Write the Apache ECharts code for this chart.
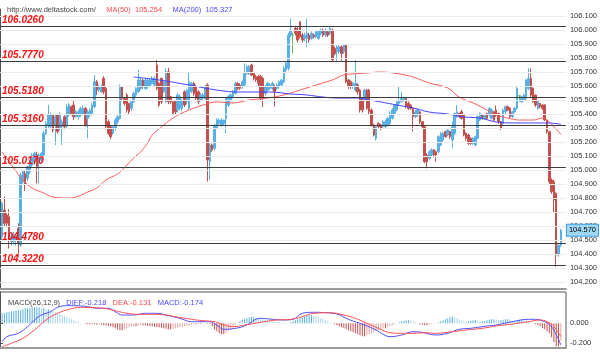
<!DOCTYPE html>
<html><head><meta charset="utf-8">
<script src="https://cdn.jsdelivr.net/npm/echarts@6/dist/echarts.min.js"></script>
<style>html,body{margin:0;padding:0;background:#fff}#c{width:600px;height:356px}</style>
</head><body><div id="c"></div>
<script>
// ---- data ----
// candles: [open, close, low, high]
const candles = [
[104.523,104.762,104.50,104.774],[104.714,104.619,104.60,104.81],[104.678,104.619,104.59,104.69],[104.666,104.50,104.44,104.72],
[104.488,104.523,104.46,104.55],[104.49,104.535,104.47,104.56],[104.50,104.523,104.46,104.54],[104.583,104.476,104.38,104.62],
[104.464,104.964,104.45,104.98],[104.916,104.988,104.90,105.0],[104.976,104.893,104.85,105.0],[104.94,105.024,104.92,105.03],
[104.988,105.059,104.97,105.07],[105.035,105.107,105.02,105.12],[105.059,105.119,105.04,105.13],[105.107,105.024,104.904,105.13],
[105.059,105.107,104.904,105.12],[105.071,105.119,105.05,105.13],[105.107,105.262,105.09,105.28],[105.262,105.333,105.25,105.35],
[105.321,105.393,105.30,105.464],[105.309,105.393,105.29,105.41],[105.393,105.285,105.27,105.40],[105.321,105.381,105.178,105.40],
[105.393,105.274,105.26,105.40],[105.297,105.393,105.28,105.41],[105.309,105.345,105.178,105.36],[105.381,105.309,105.29,105.39],
[105.321,105.452,105.30,105.47],[105.393,105.464,105.38,105.48],[105.452,105.404,105.39,105.46],[105.464,105.381,105.357,105.50],
[105.381,105.416,105.37,105.43],[105.381,105.416,105.36,105.43],[105.393,105.44,105.38,105.45],[105.40,105.44,105.39,105.46],
[105.44,105.321,105.31,105.45],[105.369,105.416,105.226,105.43],[105.393,105.428,105.38,105.44],[105.404,105.464,105.39,105.48],
[105.452,105.631,105.44,105.678],[105.631,105.571,105.535,105.643],[105.571,105.595,105.56,105.61],[105.559,105.595,105.55,105.61],
[105.655,105.559,105.54,105.67],[105.583,105.309,105.29,105.60],[105.345,105.262,105.25,105.36],[105.309,105.238,105.22,105.32],
[105.262,105.309,105.25,105.32],[105.297,105.357,105.28,105.37],[105.345,105.381,105.33,105.39],[105.369,105.595,105.36,105.61],
[105.595,105.512,105.50,105.60],[105.512,105.476,105.46,105.52],[105.535,105.428,105.41,105.55],[105.476,105.416,105.40,105.48],
[105.44,105.488,105.42,105.50],[105.488,105.547,105.48,105.56],[105.535,105.583,105.52,105.59],[105.559,105.643,105.55,105.714],
[105.583,105.643,105.57,105.66],[105.643,105.595,105.58,105.65],[105.583,105.643,105.57,105.66],[105.595,105.643,105.58,105.66],
[105.60,105.643,105.59,105.65],[105.619,105.655,105.61,105.67],[105.607,105.655,105.60,105.67],[105.75,105.583,105.57,105.786],
[105.619,105.464,105.45,105.63],[105.655,105.488,105.47,105.66],[105.559,105.631,105.55,105.64],[105.488,105.702,105.48,105.726],
[105.702,105.488,105.47,105.73],[105.523,105.488,105.47,105.53],[105.488,105.404,105.39,105.50],[105.488,105.416,105.40,105.50],
[105.428,105.535,105.41,105.55],[105.44,105.523,105.43,105.54],
[105.44,105.50,105.42,105.51],[105.559,105.464,105.45,105.57],[105.488,105.571,105.47,105.58],[105.44,105.631,105.43,105.702],
[105.559,105.619,105.55,105.63],[105.619,105.547,105.53,105.63],[105.595,105.512,105.50,105.61],[105.559,105.488,105.47,105.57],
[105.50,105.536,105.49,105.55],[105.512,105.536,105.50,105.55],[105.512,105.595,105.50,105.61],[105.607,105.071,104.917,105.62],
[105.06,105.179,104.929,105.19],[105.179,105.143,105.13,105.19],[105.155,105.321,105.14,105.33],[105.298,105.357,105.29,105.37],
[105.333,105.357,105.32,105.37],[105.321,105.357,105.31,105.37],[105.33,105.357,105.32,105.36],[105.369,105.512,105.262,105.52],
[105.464,105.524,105.45,105.535],[105.50,105.536,105.49,105.55],[105.524,105.559,105.51,105.57],[105.547,105.619,105.54,105.63],
[105.619,105.583,105.57,105.63],[105.607,105.583,105.57,105.62],[105.595,105.631,105.58,105.64],[105.607,105.69,105.60,105.762],
[105.69,105.738,105.68,105.75],[105.69,105.738,105.68,105.75],[105.75,105.678,105.67,105.76],[105.69,105.655,105.64,105.70],
[105.667,105.643,105.63,105.68],[105.667,105.619,105.60,105.68],[105.667,105.512,105.50,105.68],[105.655,105.512,105.45,105.667],
[105.547,105.595,105.53,105.61],[105.571,105.619,105.56,105.63],[105.583,105.607,105.57,105.62],[105.583,105.619,105.57,105.63],
[105.595,105.559,105.452,105.61],[105.583,105.607,105.57,105.62],[105.595,105.631,105.58,105.64],[105.607,105.643,105.60,105.65],
[105.631,105.726,105.62,105.74],[105.714,105.762,105.70,105.77],[105.726,105.964,105.71,105.98],[105.964,106.0,105.95,106.083],
[105.964,105.964,105.833,105.98],[106.012,105.976,105.96,106.03],[106.0,105.928,105.91,106.02],[106.059,105.952,105.94,106.06],
[105.964,105.928,105.91,105.98],[105.94,105.964,105.92,105.98],[105.94,105.976,105.88,106.083],[105.964,105.928,105.91,105.98],
[105.94,105.976,105.93,105.99],[105.964,105.952,105.94,105.975],[105.952,105.988,105.94,106.0],[105.94,105.988,105.93,106.0],
[105.976,106.0,105.96,106.01],[106.0,105.964,105.95,106.01],[105.964,106.0,105.95,106.01],[105.988,105.964,105.95,106.0],
[105.976,106.012,105.96,106.02],[106.0,105.786,105.77,106.01],[105.869,105.833,105.82,105.88],[105.845,105.881,105.77,105.89],
[105.845,105.881,105.83,105.89],[105.881,105.833,105.78,105.89],[105.845,105.893,105.83,105.90],[105.893,105.631,105.62,105.90],
[105.643,105.595,105.58,105.65],[105.631,105.595,105.58,105.64],[105.595,105.619,105.58,105.63],[105.571,105.619,105.56,105.786],
[105.607,105.559,105.54,105.62],[105.571,105.429,105.41,105.58],[105.512,105.429,105.41,105.52],[105.50,105.571,105.49,105.58],
[105.571,105.44,105.43,105.58],[105.571,105.417,105.40,105.58],[105.429,105.321,105.31,105.44],[105.321,105.25,105.24,105.33],
[105.226,105.309,105.21,105.32],[105.333,105.309,105.30,105.34],[105.321,105.297,105.285,105.33],[105.309,105.345,105.30,105.355],
[105.309,105.345,105.30,105.36],[105.321,105.369,105.31,105.38],[105.333,105.404,105.32,105.42],[105.369,105.428,105.36,105.44],
[105.404,105.464,105.39,105.47],[105.428,105.488,105.42,105.50],[105.476,105.50,105.46,105.595],[105.488,105.512,105.48,105.559],
[105.50,105.512,105.49,105.52],[105.512,105.452,105.44,105.52],[105.476,105.44,105.43,105.49],[105.464,105.44,105.43,105.47],
[105.44,105.381,105.274,105.45],[105.381,105.416,105.37,105.43],[105.393,105.428,105.38,105.44],[105.416,105.345,105.33,105.42],
[105.345,105.309,105.30,105.35],[105.309,105.059,105.05,105.315],[105.107,105.059,105.012,105.12],[105.083,105.131,105.07,105.14],
[105.107,105.143,105.10,105.155],[105.143,105.107,105.09,105.15],[105.131,105.107,105.059,105.14],[105.131,105.238,105.12,105.25],
[105.178,105.262,105.17,105.27],[105.214,105.262,105.20,105.27],[105.274,105.238,105.23,105.28],[105.25,105.285,105.24,105.29],
[105.274,105.238,105.22,105.28],[105.214,105.309,105.155,105.345],[105.262,105.404,105.25,105.41],[105.381,105.416,105.37,105.464],
[105.404,105.381,105.37,105.41],[105.416,105.369,105.36,105.43],[105.393,105.25,105.24,105.40],[105.262,105.226,105.21,105.27],
[105.25,105.19,105.18,105.26],[105.226,105.19,105.18,105.235],[105.19,105.226,105.18,105.235],[105.178,105.238,105.17,105.245],
[105.226,105.381,105.22,105.39],[105.357,105.404,105.35,105.41],[105.393,105.369,105.36,105.40],[105.369,105.393,105.36,105.40],
[105.404,105.369,105.36,105.41],[105.393,105.44,105.38,105.45],[105.369,105.428,105.36,105.44],[105.416,105.357,105.35,105.42],
[105.428,105.393,105.38,105.46],[105.404,105.345,105.33,105.41],[105.345,105.297,105.285,105.35],[105.333,105.428,105.32,105.44],
[105.416,105.452,105.40,105.46],[105.452,105.428,105.42,105.46],[105.44,105.381,105.37,105.45],[105.381,105.416,105.37,105.42],
[105.416,105.44,105.41,105.45],[105.44,105.583,105.43,105.60],[105.53,105.53,105.488,105.535],[105.488,105.523,105.48,105.53],
[105.50,105.535,105.49,105.545],[105.512,105.643,105.50,105.65],[105.583,105.655,105.57,105.726],[105.655,105.535,105.52,105.726],
[105.583,105.488,105.48,105.59],[105.535,105.464,105.45,105.54],[105.44,105.488,105.43,105.50],[105.476,105.452,105.44,105.48],
[105.464,105.44,105.43,105.47],[105.464,105.357,105.35,105.47],[105.357,105.274,105.26,105.36],[105.274,104.916,104.90,105.28],
[104.928,104.845,104.83,104.94],[104.916,104.785,104.70,104.93],[104.833,104.393,104.309,104.84],[104.393,104.464,104.38,104.47],
[104.464,104.57,104.45,104.58]
];
// moving averages read at candle indices: [index, value]
const ma50 = [[0,105.129],[5,105.014],[9,104.929],[13,104.871],[18,104.836],[22,104.807],[28,104.80],[32,104.807],[37,104.843],[41,104.871],[45,104.929],[50,104.971],[52,105.0],[57,105.086],[60,105.129],[63,105.193],[65,105.250],[70,105.321],[74,105.371],[78,105.407],[81,105.429],[87,105.464],[93,105.486],[100,105.479],[107,105.50],[115,105.514],[122,105.536],[129,105.571],[136,105.607],[143,105.643],[148,105.679],[152,105.686],[158,105.693],[164,105.70],[172,105.686],[178,105.664],[185,105.621],[193,105.586],[198,105.521],[204,105.479],[210,105.429],[214,105.393],[219,105.371],[224,105.357],[230,105.357],[234,105.371],[237,105.343],[242,105.254]];
const ma200 = [[57,105.664],[68,105.643],[81,105.607],[93,105.571],[103,105.557],[116,105.557],[125,105.543],[132,105.536],[139,105.521],[146,105.514],[154,105.514],[159,105.50],[164,105.486],[171,105.464],[178,105.443],[185,105.414],[193,105.40],[200,105.379],[207,105.371],[214,105.343],[222,105.336],[229,105.336],[236,105.336],[242,105.327]];
// MACD panel
const diffLine = [[0,-0.184],[2,-0.134],[7,-0.10],[11,-0.034],[14,0.033],[17,0.083],[21,0.116],[24,0.16],[28,0.176],[32,0.176],[37,0.166],[42,0.15],[46,0.15],[49,0.116],[52,0.083],[57,0.083],[62,0.10],[67,0.10],[72,0.076],[77,0.05],[82,0.016],[87,0.016],[90,0.016],[93,-0.02],[96,-0.06],[100,-0.054],[105,-0.027],[112,0.05],[117,0.04],[122,0.033],[126,0.04],[130,0.10],[135,0.11],[140,0.106],[145,0.093],[150,0.04],[157,-0.017],[162,-0.067],[165,-0.11],[168,-0.134],[173,-0.117],[178,-0.084],[181,-0.087],[188,-0.117],[193,-0.10],[198,-0.06],[203,-0.05],[210,-0.027],[214,-0.017],[221,0.016],[228,0.04],[231,0.04],[235,0.016],[237,-0.01],[239,-0.07],[241,-0.16],[242,-0.218]];
const deaLine = [[0,-0.234],[4,-0.2],[9,-0.15],[14,-0.067],[19,0.033],[24,0.10],[29,0.14],[34,0.16],[39,0.156],[44,0.15],[49,0.126],[54,0.10],[59,0.09],[65,0.09],[71,0.083],[75,0.066],[82,0.04],[87,0.026],[92,0.016],[95,-0.007],[100,-0.034],[105,-0.017],[112,0.01],[119,0.033],[125,0.04],[130,0.066],[135,0.10],[142,0.106],[148,0.083],[153,0.05],[158,0.0],[163,-0.05],[168,-0.094],[173,-0.10],[178,-0.10],[183,-0.094],[188,-0.10],[195,-0.084],[201,-0.067],[208,-0.05],[214,-0.027],[221,-0.007],[228,0.016],[233,0.033],[236,0.016],[239,-0.034],[242,-0.131]];
const macdHist = [
0.10,0.10,0.11,0.11,0.12,0.12,0.13,0.13,0.13,0.14,0.15,0.15,0.15,0.16,0.16,0.16,0.16,0.15,0.15,0.14,0.14,0.13,0.12,
0.11,0.10,0.09,0.08,0.07,0.06,0.05,0.04,0.03,0.02,0.01,
0.005,0,-0.005,-0.01,-0.01,
-0.01,-0.01,-0.015,-0.01,-0.015,-0.02,-0.02,-0.025,-0.03,
-0.04,-0.05,-0.06,-0.07,-0.07,-0.06,-0.05,
-0.04,-0.035,-0.03,-0.03,-0.025,-0.02,-0.02,-0.02,-0.025,-0.03,-0.03,-0.035,-0.04,-0.04,-0.045,-0.05,-0.055,-0.06,-0.06,-0.055,-0.05,-0.045,
-0.04,-0.035,-0.03,-0.025,-0.02,-0.015,
-0.01,-0.01,-0.005,-0.005,0,0,-0.005,-0.01,-0.03,-0.06,
-0.08,-0.10,-0.11,-0.11,-0.10,-0.08,-0.06,-0.04,
-0.02,0,0.02,0.035,0.045,
0.05,0.06,0.065,0.065,0.06,0.055,0.05,0.04,0.035,0.03,0.025,
0.02,0.015,0.01,0.01,0.005,0.005,0,0,0.01,0.02,0.03,
0.04,0.05,0.06,0.07,0.075,0.08,0.08,0.075,0.07,0.06,0.05,
0.04,0.03,0.02,0.01,0,-0.01,-0.02,
-0.03,-0.04,-0.05,-0.06,-0.07,-0.08,-0.09,-0.10,-0.11,-0.12,-0.13,-0.13,-0.12,-0.11,-0.10,
-0.09,-0.08,-0.07,-0.06,-0.05,-0.05,-0.04,-0.03,-0.02,-0.01,
0,0.01,0.02,0.025,0.03,0.03,0.025,0.02,0.01,0,
-0.01,-0.015,-0.02,-0.02,-0.015,-0.01,-0.005,0,0.01,0.02,
0.03,0.04,0.05,0.06,0.065,0.06,0.05,0.04,
0.03,0.025,0.02,0.02,0.025,0.03,0.03,0.025,0.02,0.02,0.025,0.03,0.035,0.04,0.04,0.035,0.03,0.03,0.035,0.04,0.04,0.035,0.03,0.025,0.03,0.035,0.04,0.035,0.03,0.02,0.01,0,
-0.01,-0.02,-0.03,-0.05,-0.06,-0.08,-0.10,-0.14,-0.19,-0.23,-0.23,-0.174
];
const levels = [106.026, 105.777, 105.518, 105.316, 105.017, 104.478, 104.322];
const priceTicks = [104.2,104.3,104.4,104.5,104.6,104.7,104.8,104.9,105.0,105.1,105.2,105.3,105.4,105.5,105.6,105.7,105.8,105.9,106.0,106.1];
const macdTicks = [0, -0.2];
const lastPrice = 104.570;
const header = { site: 'http://www.deltastock.com/', ma50: 105.254, ma200: 105.327 };
const macdInfo = { name: 'MACD(26,12,9)', diff: -0.218, dea: -0.131, macd: -0.174 };

// ---- chart ----
const chart = echarts.init(document.getElementById('c'));
const cats = candles.map((_, i) => String(i));
const FONT = 'Liberation Sans, Arial, sans-serif';
const yMin = 104.15, yMax = 106.15;
const mMin = -0.247, mMax = 0.313;

const histData = macdHist.map((v, i) => {
  const prev = i > 0 ? Math.abs(macdHist[i - 1]) : 0;
  const grow = Math.abs(v) >= prev;
  const col = v >= 0 ? (grow ? '#5aaee0' : '#a8d5f0') : (grow ? '#c24e4b' : '#e6a4a3');
  return { value: v, itemStyle: { color: col } };
});

const gridLines = priceTicks.map(v => ({ yAxis: v, lineStyle: { color: '#ececec', width: 1, type: 'solid' }, label: { show: false } }));
const levelLines = levels.map(v => ({
  yAxis: v,
  lineStyle: { color: '#3c3c3c', width: 1, type: 'solid' },
  label: { show: true, position: 'insideStartTop', formatter: v.toFixed(4), color: '#ff1010',
    fontSize: 10, fontWeight: 'bold', fontStyle: 'italic', fontFamily: FONT, distance: [2, 1] }
}));
const priceMark = [{
  yAxis: lastPrice,
  lineStyle: { color: 'rgba(0,0,0,0)', width: 0 },
  label: { show: true, position: 'end', formatter: lastPrice.toFixed(3), color: '#000', fontSize: 7.5, fontFamily: FONT,
    backgroundColor: '#9fd8f6', borderColor: '#3d9be0', borderWidth: 1, padding: [2, 2, 1, 2], distance: 1 }
}];

chart.setOption({
  animation: false,
  backgroundColor: '#fff',
  title: [
    { left: 2, top: 1, text: '{u|' + header.site + '}     {r|MA(50)  ' + header.ma50.toFixed(3) + '}     {b|MA(200)  ' + header.ma200.toFixed(3) + '}',
      textStyle: { fontSize: 7.5, fontFamily: FONT, fontWeight: 'normal',
        rich: { u: { color: '#444', fontSize: 7.5, fontFamily: FONT }, r: { color: '#ff4a4a', fontSize: 7.5, fontFamily: FONT }, b: { color: '#4a4aff', fontSize: 7.5, fontFamily: FONT } } } },
    { left: 3, top: 294, text: '{k|' + macdInfo.name + '}   {b|DIFF:' + macdInfo.diff.toFixed(3) + '}   {r|DEA:' + macdInfo.dea.toFixed(3) + '}   {b|MACD:' + macdInfo.macd.toFixed(3) + '}',
      textStyle: { fontSize: 7.5, fontFamily: FONT, fontWeight: 'normal',
        rich: { k: { color: '#444', fontSize: 7.5, fontFamily: FONT }, r: { color: '#ff4a4a', fontSize: 7.5, fontFamily: FONT }, b: { color: '#4a4aff', fontSize: 7.5, fontFamily: FONT } } } }
  ],
  grid: [
    { left: 0, top: 9, width: 566, height: 280 },
    { left: 1, top: 9, width: 561, height: 280 },
    { left: 1, top: 292, width: 561, height: 56 },
    { left: 0, top: 292, width: 566, height: 56, show: true, borderColor: '#555', borderWidth: 1, backgroundColor: 'transparent' }
  ],
  xAxis: [
    { gridIndex: 0, type: 'value', min: 0, max: 1, axisLabel: { show: false }, axisTick: { show: false }, splitLine: { show: false },
      axisLine: { show: true, onZero: false, lineStyle: { color: '#9a9a9a', width: 2 } } },
    { gridIndex: 1, type: 'category', data: cats, boundaryGap: true, show: false },
    { gridIndex: 2, type: 'category', data: cats, boundaryGap: true, show: false },
    { gridIndex: 3, type: 'value', min: 0, max: 1, axisLabel: { show: false }, axisTick: { show: false }, splitLine: { show: false },
      axisLine: { show: true, onZero: false, lineStyle: { color: '#9a9a9a', width: 2 } } }
  ],
  yAxis: [
    { gridIndex: 0, type: 'value', position: 'right', min: yMin, max: yMax, scale: true,
      axisLine: { show: true, lineStyle: { color: '#555' } },
      axisTick: { show: true, length: 3, customValues: priceTicks, lineStyle: { color: '#555' } },
      axisLabel: { customValues: priceTicks, formatter: v => v.toFixed(3), fontSize: 7.5, color: '#333', margin: 4, fontFamily: FONT },
      splitLine: { show: false } },
    { gridIndex: 1, type: 'value', min: yMin, max: yMax, scale: true, show: false, splitLine: { show: false } },
    { gridIndex: 2, type: 'value', min: mMin, max: mMax, show: false, splitLine: { show: false } },
    { gridIndex: 3, type: 'value', position: 'right', min: mMin, max: mMax,
      axisLine: { show: true, lineStyle: { color: '#555' } },
      axisTick: { show: true, length: 3, customValues: macdTicks, lineStyle: { color: '#555' } },
      axisLabel: { customValues: macdTicks, formatter: v => v.toFixed(3), fontSize: 7.5, color: '#333', margin: 4, fontFamily: FONT },
      splitLine: { show: false } }
  ],
  series: [
    { type: 'line', xAxisIndex: 0, yAxisIndex: 0, data: [], z: 1, silent: true,
      markLine: { silent: true, symbol: 'none', animation: false, data: gridLines } },
    { type: 'line', xAxisIndex: 0, yAxisIndex: 0, data: [], z: 2, silent: true,
      markLine: { silent: true, symbol: 'none', animation: false, data: levelLines.concat(priceMark) } },
    { type: 'candlestick', xAxisIndex: 1, yAxisIndex: 1, data: candles, barWidth: 2, z: 3,
      itemStyle: { color: '#5ab0e4', color0: '#c4504e', borderColor: '#5ab0e4', borderColor0: '#c4504e', borderColorDoji: '#5cb85c', borderWidth: 1 } },
    { type: 'line', xAxisIndex: 1, yAxisIndex: 1, data: ma50, smooth: 0.4, showSymbol: false, symbol: 'none', z: 4,
      lineStyle: { color: '#ff5c5c', width: 1 } },
    { type: 'line', xAxisIndex: 1, yAxisIndex: 1, data: ma200, smooth: 0.4, showSymbol: false, symbol: 'none', z: 4,
      lineStyle: { color: '#4444ff', width: 1 } },
    { type: 'bar', xAxisIndex: 2, yAxisIndex: 2, data: histData, barWidth: 1, z: 2 },
    { type: 'line', xAxisIndex: 2, yAxisIndex: 2, data: diffLine, smooth: 0.4, showSymbol: false, symbol: 'none', z: 4,
      lineStyle: { color: '#5050ff', width: 1 } },
    { type: 'line', xAxisIndex: 2, yAxisIndex: 2, data: deaLine, smooth: 0.4, showSymbol: false, symbol: 'none', z: 4,
      lineStyle: { color: '#ff5050', width: 1 } }
  ]
});
</script>
</body></html>
